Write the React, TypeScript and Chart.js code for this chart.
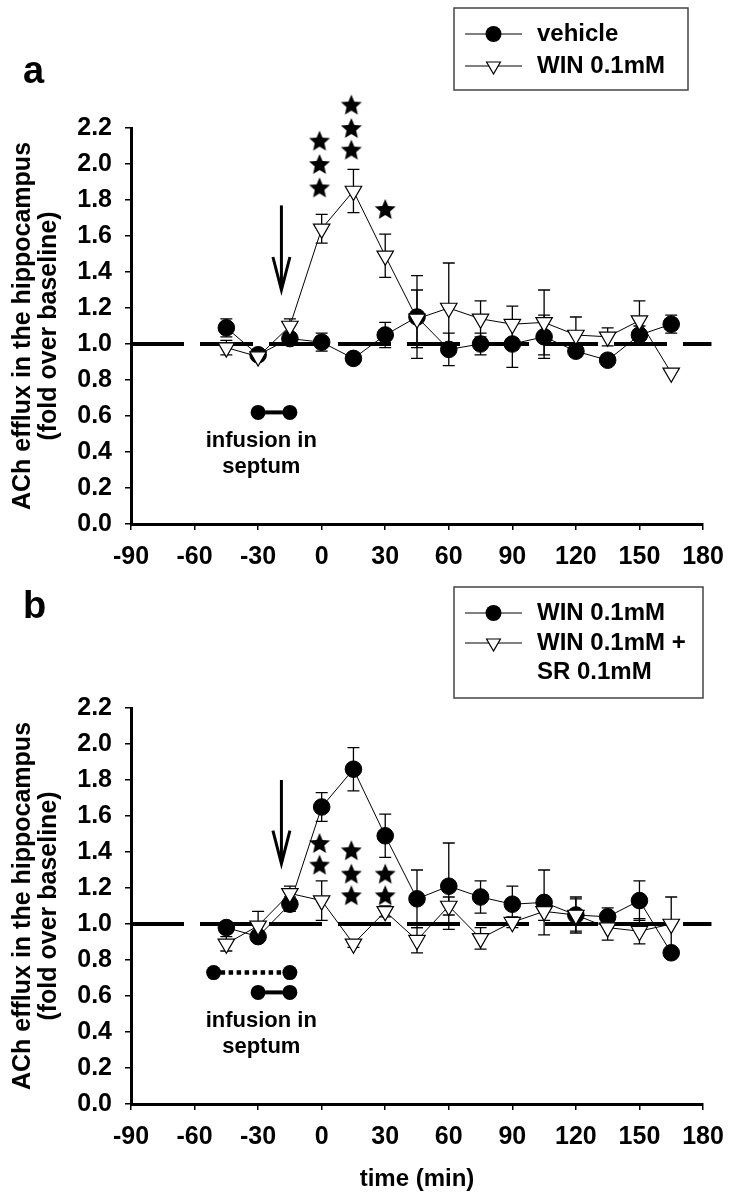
import React, { useEffect, useRef } from 'react';
import { Chart, registerables } from 'chart.js';

Chart.register(...registerables);

// ---------- data ----------
const TIMES = [-45, -30, -15, 0, 15, 30, 45, 60, 75, 90, 105, 120, 135, 150, 165];
const X_TICKS = [-90, -60, -30, 0, 30, 60, 90, 120, 150, 180];
const Y_TICKS = [0, 0.2, 0.4, 0.6, 0.8, 1.0, 1.2, 1.4, 1.6, 1.8, 2.0, 2.2];
const BASELINE_X = [-90, 184];
const BASELINE_Y = [1, 1];

// panel a
const A_VEHICLE = [1.09, 0.94, 1.03, 1.01, 0.92, 1.05, 1.15, 0.97, 1.0, 1.0, 1.04, 0.96, 0.91, 1.05, 1.11];
const A_VEHICLE_ERR = [0.05, 0.02, 0.03, 0.05, 0.03, 0.07, 0.23, 0.09, 0.06, 0.13, 0.12, 0.03, 0.02, 0.05, 0.05];
const A_WIN = [0.98, 0.93, 1.1, 1.64, 1.85, 1.49, 1.14, 1.2, 1.14, 1.11, 1.12, 1.05, 1.04, 1.13, 0.84];
const A_WIN_ERR = [0.04, 0.02, 0.04, 0.08, 0.12, 0.12, 0.16, 0.25, 0.1, 0.1, 0.18, 0.1, 0.05, 0.11, 0];
const A_STAR_X = [-1, -1, -1, 14, 14, 14, 30];
const A_STAR_Y = [2.13, 2.0, 1.87, 2.33, 2.2, 2.08, 1.75];
const A_ARROW = { x: -19, from: 1.77, to: 1.3 };

// panel b
const B_WIN = [0.98, 0.93, 1.11, 1.65, 1.86, 1.49, 1.14, 1.21, 1.15, 1.11, 1.12, 1.05, 1.04, 1.13, 0.84];
const B_WIN_ERR = [0.03, 0.02, 0.04, 0.08, 0.12, 0.12, 0.16, 0.24, 0.09, 0.1, 0.18, 0.1, 0.05, 0.11, 0];
const B_SR = [0.89, 0.99, 1.17, 1.13, 0.89, 1.07, 0.91, 1.1, 0.92, 1.01, 1.07, 1.05, 0.98, 0.96, 1.0];
const B_SR_ERR = [0.04, 0.08, 0.04, 0.11, 0.02, 0.03, 0.07, 0.05, 0.06, 0.03, 0.05, 0.09, 0.07, 0.07, 0.15];
const B_STAR_X = [-1, -1, 14, 14, 14, 30, 30];
const B_STAR_Y = [1.45, 1.33, 1.41, 1.28, 1.16, 1.28, 1.16];
const B_ARROW = { x: -19, from: 1.8, to: 1.335 };

// infusion annotations (data coords)
const INFUSION_SOLID = { from: -30, to: -15, y: 0.62 };
const INFUSION_DOTTED = { from: -51, to: -15, y: 0.73 };
const INFUSION_TEXT = { x: -28.5, y1: 0.46, y2: 0.315, lines: ['infusion in', 'septum'] };

const FONT = "'Liberation Sans', Arial, Helvetica, sans-serif";

function starImage(R: number) {
  const c = document.createElement('canvas');
  const s = Math.ceil(2 * R + 2);
  c.width = s;
  c.height = s;
  const g = c.getContext('2d')!;
  g.fillStyle = '#000';
  g.beginPath();
  for (let k = 0; k < 10; k++) {
    const r = k % 2 ? R * 0.46 : R;
    const a = -Math.PI / 2 + (k * Math.PI) / 5;
    g.lineTo(s / 2 + r * Math.cos(a), s / 2 + 1 + r * Math.sin(a));
  }
  g.closePath();
  g.fill();
  return c;
}

function pts(xs: number[], ys: number[]) {
  return xs.map((x, i) => ({ x, y: ys[i] }));
}

function drawTriangle(ctx: CanvasRenderingContext2D, x: number, y: number, r: number) {
  ctx.beginPath();
  for (let k = 0; k < 3; k++) {
    const a = Math.PI + (k * 2 * Math.PI) / 3;
    const px = x + Math.sin(a) * r;
    const py = y - Math.cos(a) * r;
    if (k === 0) ctx.moveTo(px, py);
    else ctx.lineTo(px, py);
  }
  ctx.closePath();
  ctx.fillStyle = '#fff';
  ctx.fill();
  ctx.strokeStyle = '#000';
  ctx.lineWidth = 1.2;
  ctx.stroke();
}

function makePlugin(panel: any) {
  return {
    id: 'figure_' + panel.letter,
    beforeDatasetsDraw(chart: any) {
      const ctx = chart.ctx;
      const xs = chart.scales.x;
      const ys = chart.scales.y;
      ctx.save();
      ctx.strokeStyle = '#000';
      ctx.lineWidth = 1.3;
      chart.data.datasets.forEach((ds: any) => {
        if (!ds.errors) return;
        ds.data.forEach((p: any, i: number) => {
          const e = ds.errors[i];
          if (!e) return;
          const px = xs.getPixelForValue(p.x);
          const top = ys.getPixelForValue(p.y + e);
          const bot = ys.getPixelForValue(p.y - e);
          ctx.beginPath();
          ctx.moveTo(px, top);
          ctx.lineTo(px, bot);
          ctx.moveTo(px - 6, top);
          ctx.lineTo(px + 6, top);
          ctx.moveTo(px - 6, bot);
          ctx.lineTo(px + 6, bot);
          ctx.stroke();
        });
      });
      ctx.restore();
    },
    afterDraw(chart: any) {
      const ctx = chart.ctx;
      const xs = chart.scales.x;
      const ys = chart.scales.y;
      ctx.save();
      // panel letter
      ctx.fillStyle = '#000';
      ctx.font = `bold 38px ${FONT}`;
      ctx.textAlign = 'left';
      ctx.textBaseline = 'alphabetic';
      ctx.fillText(panel.letter, panel.letterPos[0], panel.letterPos[1]);

      // arrow
      const ax = xs.getPixelForValue(panel.arrow.x);
      const ay0 = ys.getPixelForValue(panel.arrow.from);
      const ay1 = ys.getPixelForValue(panel.arrow.to);
      ctx.strokeStyle = '#000';
      ctx.lineWidth = 3;
      ctx.lineCap = 'butt';
      ctx.beginPath();
      ctx.moveTo(ax, ay0);
      ctx.lineTo(ax, ay1 - 2);
      ctx.stroke();
      ctx.lineWidth = 3;
      ctx.beginPath();
      ctx.moveTo(ax - 8.5, ay1 - 33);
      ctx.lineTo(ax, ay1);
      ctx.lineTo(ax + 8.5, ay1 - 33);
      ctx.stroke();

      // infusion bars
      const bars = panel.dotted ? [INFUSION_DOTTED, INFUSION_SOLID] : [INFUSION_SOLID];
      bars.forEach((b: any, bi: number) => {
        const x0 = xs.getPixelForValue(b.from);
        const x1 = xs.getPixelForValue(b.to);
        const y = ys.getPixelForValue(b.y);
        const dotted = panel.dotted && bi === 0;
        ctx.strokeStyle = '#000';
        ctx.lineWidth = dotted ? 4.5 : 4;
        ctx.setLineDash(dotted ? [4.5, 3.5] : []);
        ctx.beginPath();
        ctx.moveTo(x0 + 7, y);
        ctx.lineTo(x1 - 7, y);
        ctx.stroke();
        ctx.setLineDash([]);
        ctx.fillStyle = '#000';
        [x0, x1].forEach((cx) => {
          ctx.beginPath();
          ctx.arc(cx, y, 7.5, 0, Math.PI * 2);
          ctx.fill();
        });
      });
      ctx.fillStyle = '#000';
      ctx.font = `bold 22px ${FONT}`;
      ctx.textAlign = 'center';
      ctx.textBaseline = 'middle';
      const tx = xs.getPixelForValue(INFUSION_TEXT.x);
      ctx.fillText(INFUSION_TEXT.lines[0], tx, ys.getPixelForValue(INFUSION_TEXT.y1));
      ctx.fillText(INFUSION_TEXT.lines[1], tx, ys.getPixelForValue(INFUSION_TEXT.y2));

      // legend
      const L = panel.legend;
      ctx.strokeStyle = '#444';
      ctx.lineWidth = 1.5;
      ctx.strokeRect(L.box[0], L.box[1], L.box[2], L.box[3]);
      L.rows.forEach((row: any) => {
        ctx.strokeStyle = '#000';
        ctx.lineWidth = 1;
        ctx.beginPath();
        ctx.moveTo(L.lineX[0], row.y);
        ctx.lineTo(L.lineX[1], row.y);
        ctx.stroke();
        const mx = (L.lineX[0] + L.lineX[1]) / 2;
        if (row.style === 'circle') {
          ctx.fillStyle = '#000';
          ctx.beginPath();
          ctx.arc(mx, row.y, 8, 0, Math.PI * 2);
          ctx.fill();
        } else {
          drawTriangle(ctx, mx, row.y, 8);
        }
        ctx.fillStyle = '#000';
        ctx.font = `bold 24px ${FONT}`;
        ctx.textAlign = 'left';
        ctx.textBaseline = 'middle';
        row.lines.forEach((t: string, k: number) => {
          ctx.fillText(t, L.textX, row.y + k * L.lineGap);
        });
      });
      ctx.restore();
    },
  };
}

function makeConfig(panel: any) {
  const tickFont = { family: FONT, size: 25, weight: 'bold' as const };
  const star = starImage(11);
  return {
    type: 'line' as const,
    data: {
      datasets: [
        {
          label: 'stars',
          data: pts(panel.starX, panel.starY),
          showLine: false,
          pointStyle: star,
          pointRadius: 30,
          pointHoverRadius: 30,
          clip: false,
          order: 0,
        },
        {
          label: panel.triLabel,
          data: pts(TIMES, panel.tri),
          errors: panel.triErr,
          borderColor: '#000',
          borderWidth: 1,
          pointStyle: 'triangle',
          rotation: 180,
          pointRadius: 9.5,
          pointBackgroundColor: '#fff',
          pointBorderColor: '#000',
          pointBorderWidth: 1.2,
          tension: 0,
          clip: false,
          order: 1,
        },
        {
          label: panel.circLabel,
          data: pts(TIMES, panel.circ),
          errors: panel.circErr,
          borderColor: '#000',
          borderWidth: 1,
          pointStyle: 'circle',
          pointRadius: 8.3,
          pointBackgroundColor: '#000',
          pointBorderColor: '#000',
          pointBorderWidth: 1,
          tension: 0,
          clip: false,
          order: 2,
        },
        {
          label: 'baseline',
          data: pts(BASELINE_X, BASELINE_Y),
          borderColor: '#000',
          borderWidth: 4,
          borderDash: [53, 16],
          borderCapStyle: 'butt',
          pointRadius: 0,
          clip: false,
          order: 3,
        },
      ],
    },
    options: {
      responsive: false,
      animation: false,
      devicePixelRatio: 1,
      events: [],
      layout: { autoPadding: false, padding: { left: 0, right: 27, top: 128, bottom: 0 } },
      plugins: { legend: { display: false }, tooltip: { enabled: false }, title: { display: false } },
      scales: {
        x: {
          type: 'linear',
          min: -90,
          max: 180,
          afterBuildTicks: (s: any) => {
            s.ticks = X_TICKS.map((v) => ({ value: v }));
          },
          afterFit: (s: any) => {
            s.height = panel.height - 524;
            s.paddingLeft = 0;
            s.paddingRight = 0;
          },
          grid: { display: true, drawOnChartArea: false, drawTicks: true, tickLength: 6, color: '#000', lineWidth: 1.5 },
          border: { display: true, color: '#000', width: 3 },
          ticks: { color: '#000', font: tickFont, padding: 12, maxRotation: 0, autoSkip: false, callback: (v: any) => String(v) },
          title: panel.xTitle
            ? { display: true, text: panel.xTitle, color: '#000', font: { family: FONT, size: 24, weight: 'bold' }, padding: { top: 0, bottom: 6 } }
            : { display: false },
        },
        y: {
          type: 'linear',
          min: 0,
          max: 2.2,
          afterBuildTicks: (s: any) => {
            s.ticks = Y_TICKS.map((v) => ({ value: v }));
          },
          afterFit: (s: any) => {
            s.width = 131;
            s.paddingTop = 0;
            s.paddingBottom = 0;
          },
          grid: { display: true, drawOnChartArea: false, drawTicks: true, tickLength: 6, color: '#000', lineWidth: 1.5 },
          border: { display: true, color: '#000', width: 3 },
          ticks: { color: '#000', font: tickFont, padding: 13, callback: (v: any) => Number(v).toFixed(1) },
          title: {
            display: true,
            text: ['ACh efflux in the hippocampus', '(fold over baseline)'],
            color: '#000',
            font: { family: FONT, size: 25, weight: 'bold', lineHeight: 1.05 },
            padding: { top: 10, bottom: 0 },
          },
        },
      },
    },
    plugins: [makePlugin(panel)],
  };
}

const PANEL_A = {
  letter: 'a',
  letterPos: [23, 83],
  height: 580,
  circ: A_VEHICLE,
  circErr: A_VEHICLE_ERR,
  circLabel: 'vehicle',
  tri: A_WIN,
  triErr: A_WIN_ERR,
  triLabel: 'WIN 0.1mM',
  starX: A_STAR_X,
  starY: A_STAR_Y,
  arrow: A_ARROW,
  dotted: false,
  xTitle: null,
  legend: {
    box: [454, 8, 234, 82],
    lineX: [465, 522],
    textX: 537,
    lineGap: 29,
    rows: [
      { style: 'circle', y: 34, lines: ['vehicle'] },
      { style: 'triangle', y: 66, lines: ['WIN 0.1mM'] },
    ],
  },
};

const PANEL_B = {
  letter: 'b',
  letterPos: [23, 38],
  height: 620,
  circ: B_WIN,
  circErr: B_WIN_ERR,
  circLabel: 'WIN 0.1mM',
  tri: B_SR,
  triErr: B_SR_ERR,
  triLabel: 'WIN 0.1mM + SR 0.1mM',
  starX: B_STAR_X,
  starY: B_STAR_Y,
  arrow: B_ARROW,
  dotted: true,
  xTitle: 'time (min)',
  legend: {
    box: [454, 7, 249, 111],
    lineX: [465, 522],
    textX: 537,
    lineGap: 29,
    rows: [
      { style: 'circle', y: 33, lines: ['WIN 0.1mM'] },
      { style: 'triangle', y: 63, lines: ['WIN 0.1mM +', 'SR 0.1mM'] },
    ],
  },
};

export default function App() {
  const refA = useRef<HTMLCanvasElement>(null);
  const refB = useRef<HTMLCanvasElement>(null);
  useEffect(() => {
    const a = new Chart(refA.current as HTMLCanvasElement, makeConfig(PANEL_A) as any);
    const b = new Chart(refB.current as HTMLCanvasElement, makeConfig(PANEL_B) as any);
    return () => {
      a.destroy();
      b.destroy();
    };
  }, []);
  return (
    <div style={{ position: 'absolute', left: 0, top: 0, width: 730, height: 1200, background: '#fff' }}>
      <canvas ref={refA} width={730} height={580} style={{ position: 'absolute', left: 0, top: 0, width: 730, height: 580 }} />
      <canvas ref={refB} width={730} height={620} style={{ position: 'absolute', left: 0, top: 580, width: 730, height: 620 }} />
    </div>
  );
}
